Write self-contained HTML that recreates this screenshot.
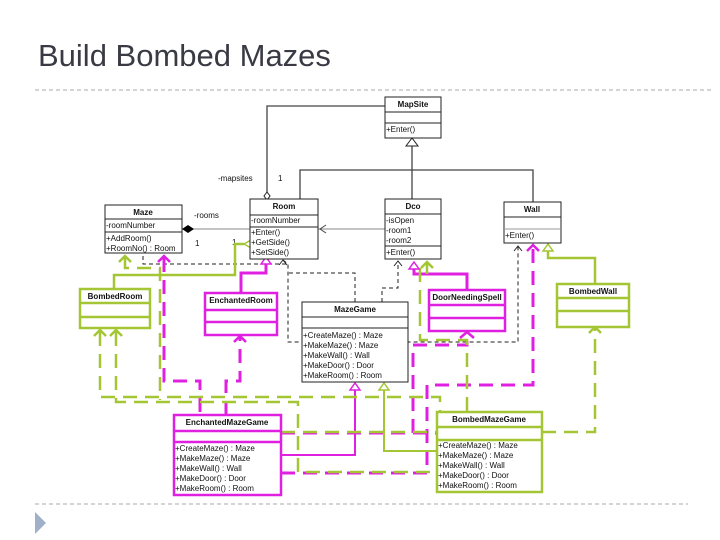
<!DOCTYPE html>
<html><head><meta charset="utf-8"><style>
html,body{margin:0;padding:0;background:#fff;width:720px;height:540px;overflow:hidden}
svg{display:block}
text{font-family:"Liberation Sans",sans-serif}
.t{font-size:8px;font-weight:bold;fill:#111;text-anchor:middle}
.m{font-size:8px;fill:#111}
</style></head><body>
<svg width="720" height="540" viewBox="0 0 720 540" xmlns="http://www.w3.org/2000/svg">
<text x="38" y="66" style="font-size:31px;fill:#3a3a44">Build Bombed Mazes</text>
<line x1="35" y1="90" x2="712" y2="90" stroke="#aaa" stroke-dasharray="4,3"/>
<line x1="35" y1="504" x2="688" y2="504" stroke="#aaa" stroke-dasharray="4,3"/>
<polygon points="35,512 46,523 35,534" fill="#9fb0c8"/>

<!-- black connectors -->
<g stroke="#444" stroke-width="1.3" fill="none">
<polyline points="385,106 267,106 267,192"/>
<polyline points="412,146 412,170 300,170 300,199"/>
<polyline points="412,170 533,170 533,202"/>
<polyline points="412,170 412,199"/>
<line x1="190" y1="229" x2="385" y2="229" stroke="#888" stroke-width="1"/>
</g>
<polygon points="412,138 406,146 418,146" fill="#fff" stroke="#222"/>
<polygon points="267,192 264,196 267,200 270,196" fill="#fff" stroke="#222"/>
<polygon points="182,229 188,225 194,229 188,233" fill="#000"/>
<polyline points="326,225 320,229 326,233" fill="none" stroke="#444"/>
<text x="218" y="181" class="m">-mapsites</text>
<text x="278" y="181" class="m">1</text>
<text x="194" y="218" class="m">-rooms</text>
<text x="195" y="246" class="m">1</text>
<text x="232" y="245" class="m">1</text>

<!-- black dashed -->
<g stroke="#222" stroke-width="1" fill="none" stroke-dasharray="4,3">
<polyline points="143,256 143,264 288,264"/>
<polyline points="283,260 288,264 288,342 518,342 518,246"/>
<polyline points="355,302 355,273 288,273"/>
<polyline points="382,302 382,288 398,288 398,261"/>
</g>
<g stroke="#222" stroke-width="1" fill="none">
<polyline points="279,265 283,260 287,265"/>
<polyline points="394,266 398,261 402,266"/>
<polyline points="514,251 518,246 522,251"/>
</g>

<!-- magenta solid -->
<g stroke="#e020e0" stroke-width="3" fill="none">
<polyline points="241,293 241,273 266,273 266,262"/>
<polyline points="467,290 467,274 414,274 414,268"/>
<polyline points="281,455 355,455 355,390" stroke-width="2"/>
</g>
<g stroke="#e020e0" stroke-width="3" fill="none" stroke-dasharray="14,8">
<polyline points="164,258 164,381 200,381 200,415"/>
<polyline points="226,415 226,381 240,381 240,336"/>
<polyline points="281,433 413,433 413,345 467,345 467,333"/>
<polyline points="281,473 427,473 427,385 490,385 533,385 533,246"/>
<polyline points="413,433 437,433"/>
</g>
<!-- green solid -->
<g stroke="#a4c634" stroke-width="2.5" fill="none">
<polyline points="114,289 114,275 235,275 235,244 244,244"/>
<polyline points="595,284 595,258 548,258 548,248"/>
<polyline points="437,451 384,451 384,390" stroke-width="2"/>
<polyline points="427,262 427,274"/>
</g>
<g stroke="#a4c634" stroke-width="2.5" fill="none" stroke-dasharray="14,8">
<polyline points="125,258 125,268 160,268 160,400"/>
<polyline points="100,332 100,397 440,397 440,412"/>
<polyline points="116,332 116,402 298,402 298,472 437,472"/>
<polyline points="420,268 420,340 467,340 467,412"/>
<polyline points="281,432 437,432"/>
<polyline points="542,432 595,432 595,329"/>
</g>
<!-- arrowheads -->
<polygon points="266,257 261,264 271,264" fill="#fff" stroke="#e020e0" stroke-width="1.5"/>
<polygon points="414,262 409,269 419,269" fill="#fff" stroke="#e020e0" stroke-width="1.5"/>
<polygon points="244,244 251,240 251,248" fill="#fff" stroke="#a4c634" stroke-width="1.5"/>
<polygon points="548,244 543,251 553,251" fill="#fff" stroke="#a4c634" stroke-width="1.5"/>
<polygon points="355,383 350,390 360,390" fill="#fff" stroke="#e020e0" stroke-width="1.5"/>
<polygon points="384,383 379,390 389,390" fill="#fff" stroke="#a4c634" stroke-width="1.5"/>
<g fill="none" stroke-width="2.5">
<polyline points="119,262 125,256 131,262" stroke="#a4c634"/>
<polyline points="158,262 164,256 170,262" stroke="#e020e0"/>
<polyline points="421,268 427,262 433,268" stroke="#a4c634"/>
<polyline points="527,251 533,245 539,251" stroke="#e020e0"/>
<polyline points="94,336 100,330 106,336" stroke="#a4c634"/>
<polyline points="110,336 116,330 122,336" stroke="#a4c634"/>
<polyline points="234,342 240,336 246,342" stroke="#e020e0"/>
<polyline points="589,333 595,327 601,333" stroke="#a4c634"/>
<polyline points="460,338 467,332 474,338" stroke="#e020e0"/>
</g>

<!-- boxes -->
<g fill="#fff" stroke="#222" stroke-width="1">
<rect x="385" y="97" width="56" height="41"/>
<line x1="385" y1="112" x2="441" y2="112"/><line x1="385" y1="123" x2="441" y2="123"/>
<rect x="250" y="199" width="68" height="60"/>
<line x1="250" y1="215" x2="318" y2="215"/><line x1="250" y1="227" x2="318" y2="227"/>
<rect x="105" y="205" width="77" height="48"/>
<line x1="105" y1="219" x2="182" y2="219"/><line x1="105" y1="232" x2="182" y2="232"/>
<rect x="385" y="199" width="56" height="60"/>
<line x1="385" y1="214" x2="441" y2="214"/><line x1="385" y1="246" x2="441" y2="246"/>
<rect x="504" y="202" width="57" height="41"/>
<line x1="504" y1="217" x2="561" y2="217"/><line x1="504" y1="229" x2="561" y2="229" stroke="#999"/>
<rect x="302" y="302" width="106" height="80"/>
<line x1="302" y1="317" x2="408" y2="317"/><line x1="302" y1="328" x2="408" y2="328"/>
</g>
<g fill="#fff" stroke="#a4c634" stroke-width="2.5">
<rect x="80" y="289" width="70" height="39"/>
<line x1="80" y1="303" x2="150" y2="303"/><line x1="80" y1="317" x2="150" y2="317"/>
<rect x="557" y="284" width="72" height="43"/>
<line x1="557" y1="298" x2="629" y2="298"/><line x1="557" y1="311" x2="629" y2="311"/>
<rect x="437" y="412" width="105" height="80"/>
<line x1="437" y1="427" x2="542" y2="427"/><line x1="437" y1="440" x2="542" y2="440"/>
</g>
<g fill="#fff" stroke="#e020e0" stroke-width="2.5">
<rect x="205" y="293" width="72" height="42"/>
<line x1="205" y1="310" x2="277" y2="310"/><line x1="205" y1="322" x2="277" y2="322"/>
<rect x="429" y="290" width="76" height="41"/>
<line x1="429" y1="305" x2="505" y2="305"/><line x1="429" y1="318" x2="505" y2="318"/>
<rect x="174" y="415" width="107" height="80"/>
<line x1="174" y1="431" x2="281" y2="431"/><line x1="174" y1="442" x2="281" y2="442"/>
</g>

<text x="413" y="107" class="t">MapSite</text>
<text x="386" y="132" class="m">+Enter()</text>
<text x="284" y="209" class="t">Room</text>
<text x="251" y="223" class="m">-roomNumber</text>
<text x="251" y="235" class="m">+Enter()</text>
<text x="251" y="245" class="m">+GetSide()</text>
<text x="251" y="255" class="m">+SetSide()</text>
<text x="143" y="215" class="t">Maze</text>
<text x="106" y="228" class="m">-roomNumber</text>
<text x="106" y="241" class="m">+AddRoom()</text>
<text x="106" y="251" class="m">+RoomNo() : Room</text>
<text x="413" y="209" class="t">Dco</text>
<text x="386" y="223" class="m">-isOpen</text>
<text x="386" y="233" class="m">-room1</text>
<text x="386" y="243" class="m">-room2</text>
<text x="386" y="255" class="m">+Enter()</text>
<text x="532" y="212" class="t">Wall</text>
<text x="505" y="238" class="m">+Enter()</text>
<text x="593" y="294" class="t">BombedWall</text>
<text x="467" y="300" class="t">DoorNeedingSpell</text>
<text x="355" y="312" class="t">MazeGame</text>
<text x="303" y="338" class="m">+CreateMaze() : Maze</text>
<text x="303" y="348" class="m">+MakeMaze() : Maze</text>
<text x="303" y="358" class="m">+MakeWall() : Wall</text>
<text x="303" y="368" class="m">+MakeDoor() : Door</text>
<text x="303" y="378" class="m">+MakeRoom() : Room</text>
<text x="115" y="299" class="t">BombedRoom</text>
<text x="241" y="303" class="t">EnchantedRoom</text>
<text x="227" y="425" class="t">EnchantedMazeGame</text>
<text x="175" y="451" class="m">+CreateMaze() : Maze</text>
<text x="175" y="461" class="m">+MakeMaze() : Maze</text>
<text x="175" y="471" class="m">+MakeWall() : Wall</text>
<text x="175" y="481" class="m">+MakeDoor() : Door</text>
<text x="175" y="491" class="m">+MakeRoom() : Room</text>
<text x="489" y="422" class="t">BombedMazeGame</text>
<text x="438" y="448" class="m">+CreateMaze() : Maze</text>
<text x="438" y="458" class="m">+MakeMaze() : Maze</text>
<text x="438" y="468" class="m">+MakeWall() : Wall</text>
<text x="438" y="478" class="m">+MakeDoor() : Door</text>
<text x="438" y="488" class="m">+MakeRoom() : Room</text>
</svg>
</body></html>
